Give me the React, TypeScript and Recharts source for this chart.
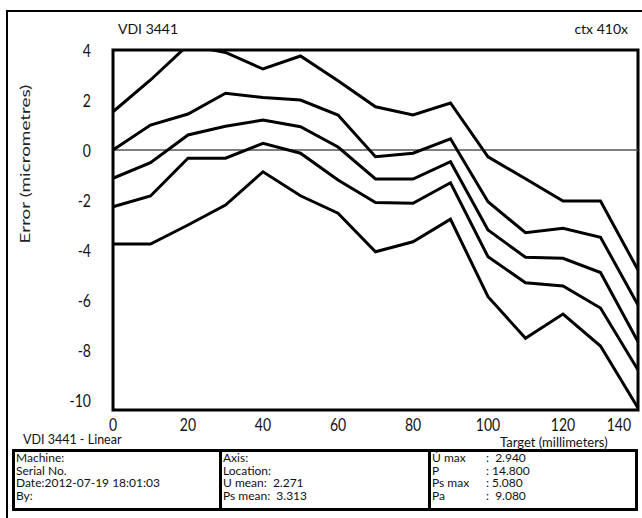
import { LineChart, Line, XAxis, YAxis, ReferenceLine, ReferenceArea } from 'recharts';

// target positions along the axis (mm)
const targetMm = [0, 10, 20, 30, 40, 50, 60, 70, 80, 90, 100, 110, 120, 130, 140];

// error curves (micrometres), top to bottom
const upperLimit = [1.53, 2.8, 4.2, 3.9, 3.24, 3.76, 2.77, 1.73, 1.4, 1.88, -0.27, -1.15, -2.04, -2.04, -4.8];
const meanForward = [0.0, 1.0, 1.44, 2.27, 2.1, 2.0, 1.4, -0.27, -0.13, 0.45, -2.07, -3.31, -3.13, -3.49, -6.2];
const meanOverall = [-1.13, -0.51, 0.6, 0.95, 1.2, 0.93, 0.12, -1.16, -1.16, -0.47, -3.2, -4.29, -4.33, -4.9, -7.67];
const meanBackward = [-2.27, -1.84, -0.33, -0.33, 0.27, -0.13, -1.2, -2.1, -2.13, -1.31, -4.27, -5.31, -5.44, -6.32, -8.8];
const lowerLimit = [-3.76, -3.76, -3.0, -2.2, -0.87, -1.83, -2.53, -4.07, -3.67, -2.77, -5.87, -7.53, -6.56, -7.84, -10.32];

const xTicks = [0, 20, 40, 60, 80, 100, 120, 140];
const yTicks = [4, 2, 0, -2, -4, -6, -8, -10];
const Y_MIN = -10.4;
const Y_MAX = 4;

const FONT = 'Lato, "Open Sans", sans-serif';

const rows = targetMm.map((t, i) => ({
  t,
  upper: upperLimit[i],
  fwd: meanForward[i],
  mean: meanOverall[i],
  bwd: meanBackward[i],
  lower: lowerLimit[i],
}));

const seriesKeys = ['upper', 'fwd', 'mean', 'bwd', 'lower'];

function YTick({ x, y, payload }: any) {
  return (
    <text
      x={x}
      y={y}
      textAnchor="end"
      dominantBaseline="central"
      fontSize={14}
      fontFamily={FONT}
      fill="#111"
      transform={`translate(0 ${y}) scale(1 1.2) translate(0 ${-y})`}
    >
      {payload.value}
    </text>
  );
}

function XTick({ x, y, payload, index }: any) {
  const last = index === xTicks.length - 1;
  return (
    <text
      x={last ? x + 1 : x}
      y={y}
      textAnchor={last ? 'end' : 'middle'}
      dominantBaseline="central"
      fontSize={14}
      fontFamily={FONT}
      fill="#111"
      transform={`translate(0 ${y}) scale(1 1.2) translate(0 ${-y})`}
    >
      {payload.value}
    </text>
  );
}

const txt = (extra: any) => ({
  position: 'absolute' as const,
  fontSize: 14,
  color: '#111',
  whiteSpace: 'pre' as const,
  lineHeight: '16px',
  ...extra,
});

const box = {
  boxSizing: 'border-box' as const,
  height: 62,
  border: '3px solid #000',
  fontSize: 12,
  lineHeight: '12.6px',
  paddingLeft: 1,
  whiteSpace: 'pre' as const,
  color: '#111',
};

export default function App() {
  return (
    <div
      style={{
        position: 'absolute',
        left: 0,
        top: 0,
        width: 642,
        height: 518,
        overflow: 'hidden',
        background: '#fff',
        fontFamily: FONT,
      }}
    >
      <div style={{ position: 'absolute', left: 6, top: 10, width: 700, height: 600, border: '2px solid #000' }} />

      <div style={txt({ left: 118, top: 21 })}>VDI 3441</div>
      <div style={txt({ right: 14, top: 21 })}>ctx 410x</div>
      <div
        style={txt({
          left: 25,
          top: 164,
          color: '#222',
          transform: 'translate(-50%, -50%) rotate(-90deg) scaleX(1.35)',
        })}
      >
        Error (micrometres)
      </div>

      <div style={{ position: 'absolute', left: 0, top: 0 }}>
        <LineChart width={642} height={450} data={rows} margin={{ top: 50, right: 4, bottom: 20, left: 0 }}>
          <XAxis
            dataKey="t"
            type="number"
            domain={[0, 140]}
            ticks={xTicks}
            axisLine={false}
            tickLine={false}
            height={20}
            tickMargin={8}
            tick={<XTick />}
          />
          <YAxis
            type="number"
            domain={[Y_MIN, Y_MAX]}
            ticks={yTicks}
            allowDataOverflow
            axisLine={false}
            tickLine={false}
            width={113}
            tickMargin={16}
            tick={<YTick />}
          />
          <ReferenceLine y={0} stroke="#555" strokeWidth={1.3} />
          {seriesKeys.map((k) => (
            <Line
              key={k}
              dataKey={k}
              type="linear"
              stroke="#000"
              strokeWidth={3}
              dot={false}
              activeDot={false}
              isAnimationActive={false}
            />
          ))}
          <ReferenceArea
            x1={0}
            x2={140}
            y1={Y_MIN}
            y2={Y_MAX}
            fill="none"
            fillOpacity={0}
            stroke="#000"
            strokeWidth={3}
            strokeOpacity={1}
            ifOverflow="visible"
          />
        </LineChart>
      </div>

      <div style={txt({ left: 23, top: 432, fontSize: 12.5 })}>VDI 3441 - Linear</div>
      <div style={txt({ left: 500, top: 434, fontSize: 13 })}>Target (millimeters)</div>

      <div style={{ position: 'absolute', left: 12, top: 449, display: 'flex' }}>
        <div style={{ ...box, width: 210 }}>
          {'Machine:\nSerial No.\nDate:2012-07-19 18:01:03\nBy:'}
        </div>
        <div style={{ ...box, width: 209, borderLeft: 0 }}>
          {'Axis:\nLocation:\nU mean:  2.271\nPs mean:  3.313'}
        </div>
        <div style={{ ...box, width: 207, borderLeft: 0, display: 'flex' }}>
          <div style={{ width: 54 }}>{'Ú max\nP\nPs max\nPa'}</div>
          <div>{':  2.940\n: 14.800\n: 5.080\n:  9.080'}</div>
        </div>
      </div>
    </div>
  );
}
